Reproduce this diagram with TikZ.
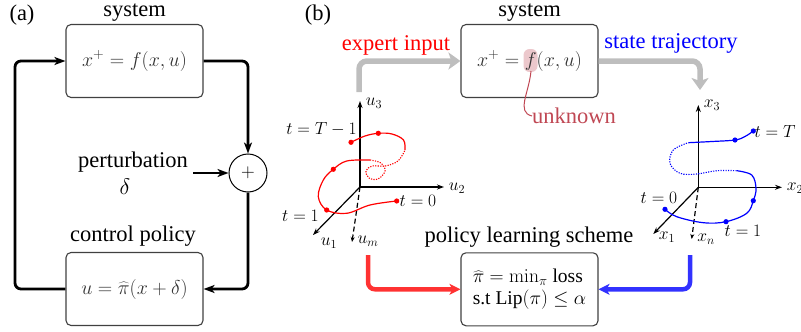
\RequirePackage{fix-cm}
\documentclass[tikz,border=0pt]{standalone}
\usepackage[no-math]{fontspec}
\setmainfont{Liberation Serif}
\usetikzlibrary{arrows.meta}
\definecolor{unkc}{RGB}{192,72,84}
\definecolor{grc}{RGB}{190,190,190}
\definecolor{rdc}{RGB}{255,50,50}
\definecolor{blc}{RGB}{50,50,255}
\begin{document}
\begin{tikzpicture}[x=1pt,y=-1pt,
 lbl/.style={font=\fontsize{22.5}{27}\selectfont, inner sep=0pt},
 sml/.style={font=\fontsize{17.5}{20}\selectfont, inner sep=0pt},
 box/.style={draw=black!75, line width=1.1pt, rounded corners=5pt, minimum width=137pt, minimum height=73pt, font=\fontsize{20}{24}\selectfont, text=black!80},
 fbline/.style={line width=2.8pt, rounded corners=6pt, -{Stealth[length=11pt,width=8pt,inset=3pt]}},
 garrow/.style={draw=grc, line width=5.5pt, rounded corners=8pt, -{Stealth[length=12pt,width=17pt,inset=3pt]}},
 carrow/.style={line width=4.5pt, rounded corners=7pt, -{Stealth[length=11pt,width=11pt,inset=3pt]}},
 axisl/.style={line width=1.2pt, -{Stealth[length=7pt,width=5pt]}},
 axisd/.style={line width=1.2pt, dash pattern=on 5pt off 3pt, -{Stealth[length=5pt,width=4pt]}},
 curv/.style={line width=1.2pt},
 dotc/.style={line width=1.1pt, dash pattern=on 1.2pt off 1.3pt},
]
\useasboundingbox (0,0) rectangle (801,332);

% ---------------- (a) ----------------
\node[lbl] (la) at (22,15) {(a)};
\node[lbl] (sysA) at (134.5,13) {system};
\node[box] (boxA) at (134.5,61) {$x^+ = f(x,u)$};
\node[draw, circle, line width=1pt, minimum size=38pt, inner sep=0pt, font=\fontsize{19}{23}\selectfont] (sum) at (248,173) {$+$};
\node[lbl] (pert) at (133,162) {perturbation};
\node[lbl] (del) at (125,187) {$\delta$};
\node[lbl] (cp) at (133,236) {control policy};
\node[box] (boxP) at (134.5,289) {$u = \widehat{\pi}(x+\delta)$};
\coordinate (pa) at (193,173);
\coordinate (lc) at (15,289);
\draw[fbline] (boxA.east) -| (sum.north);
\draw[fbline] (sum.south) |- (boxP.east);
\draw[fbline] (boxP.west) -- (lc) |- (boxA.west);
\draw[line width=2.8pt, -{Stealth[length=11pt,width=8pt,inset=3pt]}] (pa) -- (sum.west);

% ---------------- (b) ----------------
\node[lbl] (lb) at (318,15) {(b)};
\node[lbl] (sysB) at (529.5,13) {system};
\fill[unkc!30, rounded corners=6pt] (523.5,49) rectangle (537.5,72);
\node[box] (boxB) at (529.5,61) {$x^+ = f(x,u)$};
\coordinate (fpt) at (531,71);
\node[lbl, text=unkc] (unk) at (574,116) {unknown};
\draw[unkc, line width=1pt] (fpt) .. controls (529,93) and (516,112) .. (unk.west);

\node[lbl, text=red] (exp) at (396,45) {expert input};
\node[lbl, text=blue] (st) at (671,43) {state trajectory};
\coordinate (ea) at (359,92);
\coordinate (sa) at (700,90);
\draw[garrow] (ea) |- (boxB.west);
\draw[garrow] (boxB.east) -| (sa);

% left axes (u)
\coordinate (uo) at (360,187);
\coordinate (u3e) at (360,101);
\coordinate (u2e) at (444,187);
\coordinate (u1e) at (313,235);
\coordinate (ume) at (352,242);
\draw[axisl] (uo) -- (u3e);
\draw[axisl] (uo) -- (u2e);
\draw[axisl] (uo) -- (u1e);
\draw[axisd] (uo) -- (ume);
\node[sml] (u3) at (374,103) {$u_3$};
\node[sml] (u2) at (457,188) {$u_2$};
\node[sml] (u1) at (329,243) {$u_1$};
\node[sml] (um) at (368,241) {$u_m$};

\draw[red, curv] plot[smooth, tension=0.6] coordinates {(396.7,201) (370,205) (346.7,213.3) (326.7,210) (318.3,196.7) (323.3,180) (333.3,169.3) (346.7,161) (370,160)};
\draw[red, dotc] plot[smooth, tension=0.6] coordinates {(370,160) (381,163) (385,171) (378,179) (369,178) (366,171) (372,166) (385,166) (398,161) (405,150)};
\draw[red, curv] plot[smooth, tension=0.6] coordinates {(405,150) (403.5,140) (392,134) (378.3,133.3) (365,136) (351,142.3)};
\foreach \p in {(396.7,201),(326.7,210),(333.3,169.3),(378.3,133.3),(351,142.3)} \fill[red] \p circle (2.6pt);
\node[sml] (t0a) at (418,201) {$t=0$};
\node[sml] (t1a) at (300.5,216) {$t=1$};
\node[sml] (tTa) at (321.5,129) {$t=T-1$};

% right axes (x)
\coordinate (xo) at (698.3,187.3);
\coordinate (x3e) at (698.3,105);
\coordinate (x2e) at (782,187.3);
\coordinate (x1e) at (653.3,234);
\coordinate (xne) at (691.7,239);
\draw[axisl] (xo) -- (x3e);
\draw[axisl] (xo) -- (x2e);
\draw[axisl] (xo) -- (x1e);
\draw[axisd] (xo) -- (xne);
\node[sml] (x3) at (712,105) {$x_3$};
\node[sml] (x2) at (795,188) {$x_2$};
\node[sml] (x1) at (667,237) {$x_1$};
\node[sml] (xn) at (706,239) {$x_n$};

\draw[blue, curv] plot[smooth, tension=0.6] coordinates {(665,209.3) (676.7,216.7) (703.3,222.7) (726,221.7) (746.7,213.3) (753.3,200.7) (756,188.3) (751.7,175) (736.7,170.7)};
\draw[blue, dotc] plot[smooth, tension=0.6] coordinates {(736.7,170.7) (716.7,170.7) (696.7,174) (680,173.3) (670,163.3) (673.3,150) (688.3,142.7)};
\draw[blue, curv] plot[smooth, tension=0.6] coordinates {(688.3,142.7) (712,141.5) (735,140) (745,136.5) (753.3,131)};
\foreach \p in {(665,209.3),(726,221.7),(753.3,200.7),(735,140),(753.3,131)} \fill[blue] \p circle (2.6pt);
\node[sml] (t0b) at (659,198) {$t=0$};
\node[sml] (t1b) at (743,231) {$t=1$};
\node[sml] (tTb) at (775,132) {$t=T$};

% policy learning
\node[lbl] (pls) at (529,237) {policy learning scheme};
\node[box, align=left, text=black, font=\fontsize{19.5}{23}\selectfont] (boxL) at (529.5,289.3) {$\widehat{\pi} = \min_\pi$ loss\\[-1pt] s.t Lip$(\pi) \le \alpha$};
\coordinate (ra) at (368,255);
\coordinate (ba) at (690,255);
\draw[carrow, draw=rdc] (ra) |- (boxL.west);
\draw[carrow, draw=blc] (ba) |- (boxL.east);
\end{tikzpicture}
\end{document}
